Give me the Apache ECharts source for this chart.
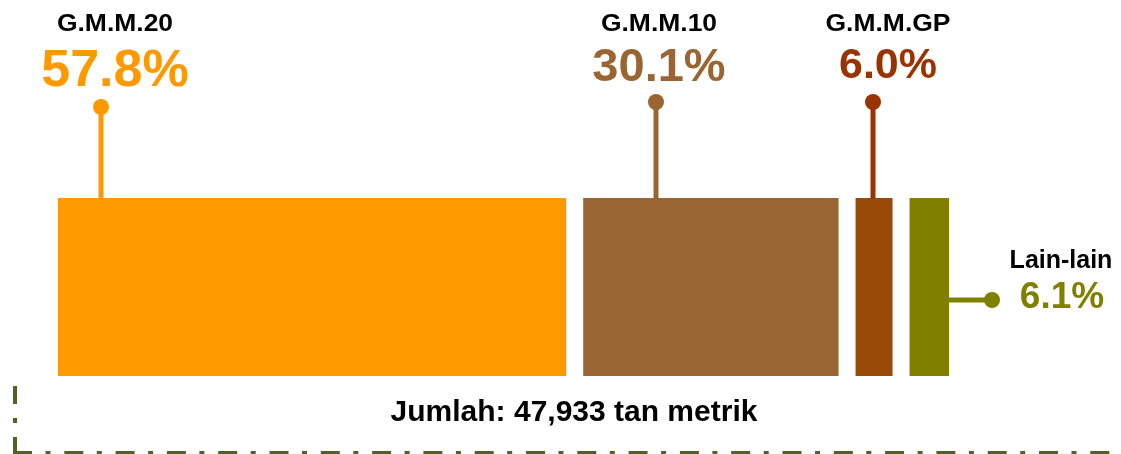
<!DOCTYPE html>
<html><head><meta charset="utf-8">
<script src="https://cdn.jsdelivr.net/npm/echarts@6/dist/echarts.min.js"></script>
<style>html,body{margin:0;padding:0;background:#fff}#c{width:1121px;height:454px}</style>
</head><body><div id="c"></div><script>
// ---- data ----
const categories = ['G.M.M.20', 'G.M.M.10', 'G.M.M.GP', 'Lain-lain'];
const percentages = [57.8, 30.1, 6.0, 6.1];
// relative width of each block as it is drawn in the reference
const blockWidths = [60.5, 30.4, 4.4, 4.7];
const totalLabel = 'Jumlah: 47,933 tan metrik';

// ---- styles ----
const barColors = ['#FF9900', '#996633', '#984807', '#808000'];
const textColors = ['#FF9900', '#996633', '#993300', '#808000'];
const FONT = '"Liberation Sans", Arial, sans-serif';
const GAP = 17;
const labelLayout = [
  { kind: 'top', leaderFrac: 0.085, dotY: 107, textDx: 14, nameY: 25, nameSize: 23, nameScale: 1.15, pctY: 72, pctSize: 52 },
  { kind: 'top', leaderFrac: 0.286, dotY: 102, textDx: 3, nameY: 25, nameSize: 23, nameScale: 1.15, pctY: 68, pctSize: 47 },
  { kind: 'top', leaderFrac: 0.46, dotY: 102, textDx: 15, nameY: 25, nameSize: 23, nameScale: 1.15, pctY: 66, pctSize: 43 },
  { kind: 'right', leaderLen: 43, lineY: 300, nameDx: 69, nameY: 261, nameSize: 25, nameScale: 1, pctDx: 70, pctY: 298, pctSize: 37 }
];

let acc = 0;
const seriesData = blockWidths.map((w, i) => {
  const item = [acc, acc + w, percentages[i]];
  acc += w;
  return item;
});
const total = acc;

function txt(text, x, y, size, color, sx) {
  return {
    type: 'text',
    x: x, y: y, scaleX: sx || 1,
    style: {
      text: text, x: 0, y: 0, fill: color,
      font: 'bold ' + size + 'px ' + FONT,
      align: 'center', verticalAlign: 'middle',
      textAlign: 'center', textVerticalAlign: 'middle'
    }
  };
}

const chart = echarts.init(document.getElementById('c'), null, { renderer: 'canvas' });
chart.setOption({
  animation: false,
  backgroundColor: '#ffffff',
  grid: { left: 58, top: 198, width: 840, height: 178 },
  xAxis: { type: 'value', min: 0, max: total, show: false },
  yAxis: { type: 'category', data: ['all'], show: false },
  series: [{
    type: 'custom',
    clip: false,
    data: seriesData,
    encode: { x: [0, 1] },
    renderItem: function (params, api) {
      const i = params.dataIndex;
      const s = api.coord([api.value(0), 0]);
      const e = api.coord([api.value(1), 0]);
      const band = api.size([0, 1])[1];
      const x0 = s[0] + i * GAP, x1 = e[0] + i * GAP;
      const yTop = s[1] - band / 2, yBot = s[1] + band / 2;
      const L = labelLayout[i];
      const col = textColors[i];
      const pct = api.value(2).toFixed(1) + '%';
      const children = [{
        type: 'rect',
        shape: { x: x0, y: yTop, width: x1 - x0, height: yBot - yTop },
        style: { fill: barColors[i] }
      }];
      if (L.kind === 'top') {
        const lx = Math.round(x0 + (x1 - x0) * L.leaderFrac);
        children.push({ type: 'line', shape: { x1: lx, y1: L.dotY, x2: lx, y2: yTop + 1 }, style: { stroke: col, lineWidth: 5 } });
        children.push({ type: 'circle', shape: { cx: lx, cy: L.dotY, r: 8 }, style: { fill: col } });
        children.push(txt(categories[i], lx + L.textDx, L.nameY, L.nameSize, '#000000', L.nameScale));
        children.push(txt(pct, lx + L.textDx, L.pctY, L.pctSize, col));
      } else {
        const dx = x1 + L.leaderLen;
        children.push({ type: 'line', shape: { x1: x1, y1: L.lineY, x2: dx, y2: L.lineY }, style: { stroke: col, lineWidth: 5 } });
        children.push({ type: 'circle', shape: { cx: dx, cy: L.lineY, r: 8 }, style: { fill: col } });
        children.push(txt(categories[i], dx + L.nameDx, L.nameY, L.nameSize, '#000000', L.nameScale));
        children.push(txt(pct, dx + L.pctDx, L.pctY, L.pctSize, col));
      }
      return { type: 'group', children: children };
    }
  }],
  graphic: [
    { type: 'text', x: 574, y: 413, style: { text: totalLabel, x: 0, y: 0, fill: '#000', font: 'bold 30px ' + FONT, align: 'center', verticalAlign: 'middle', textAlign: 'center', textVerticalAlign: 'middle' } },
    { type: 'line', shape: { x1: 15, y1: 453, x2: 15, y2: 386 }, style: { stroke: '#4F6228', lineWidth: 4, lineDash: [16, 14, 5, 14, 18, 100] } },
    { type: 'line', shape: { x1: 13, y1: 453, x2: 1110, y2: 453 }, style: { stroke: '#4F6228', lineWidth: 4, lineDash: [19, 13.5, 5, 13.8] } }
  ]
});
</script></body></html>
